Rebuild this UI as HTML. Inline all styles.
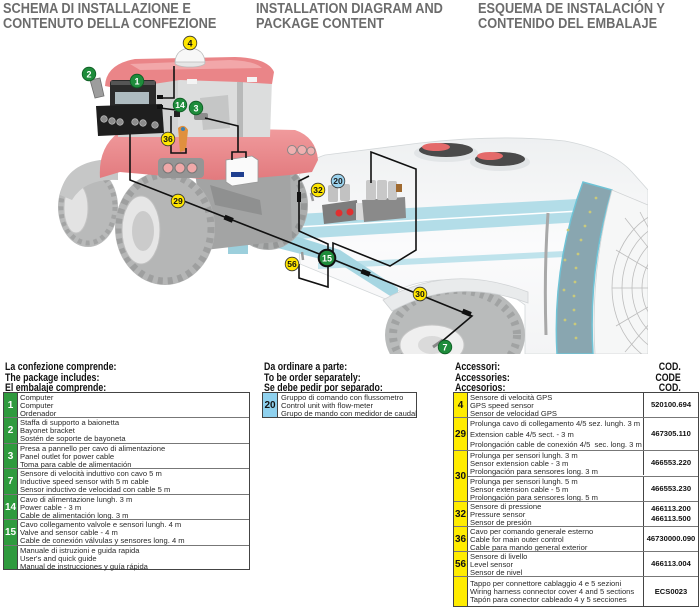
<!DOCTYPE html>
<html>
<head>
<meta charset="utf-8">
<style>
*{margin:0;padding:0;box-sizing:border-box}
body{width:700px;height:612px;position:relative;background:#fff;overflow:hidden;font-family:"Liberation Sans",Arial,sans-serif}
.ti{position:absolute;font-weight:bold;color:#6c6c6c;font-size:14.5px;line-height:15px;transform:scaleX(0.88);transform-origin:0 0;white-space:nowrap}
.hd{position:absolute;font-weight:bold;color:#111;font-size:11px;line-height:10.5px;transform:scaleX(0.8);transform-origin:0 0;white-space:nowrap}
.hdr{position:absolute;font-weight:bold;color:#111;font-size:11px;line-height:10.5px;transform:scaleX(0.8);transform-origin:100% 0;white-space:nowrap;text-align:right}
.tb{position:absolute;border:1px solid #444;background:#fff}
.r{position:absolute;left:0;right:0}
.r.s{border-top:1px solid #777}
.n{position:absolute;left:0;top:0;bottom:0;display:flex;align-items:center;justify-content:center;font-weight:bold;font-size:10px;border-right:1px solid #444}
.g{width:14px;background:#2f9a3e;color:#fff}
.y{width:14px;background:#ffec00;color:#111}
.b{width:15px;background:#8fd1ee;color:#111}
.x{position:absolute;font-size:7.6px;line-height:8.2px;color:#2b2b2b;white-space:nowrap}
.c{position:absolute;left:189px;right:0;top:0;bottom:0;display:flex;flex-direction:column;align-items:center;justify-content:center;font-weight:bold;font-size:7.6px;line-height:10px;color:#111;border-left:1px solid #444}
</style>
</head>
<body>

<svg width="700" height="360" style="position:absolute;left:0;top:0" xmlns="http://www.w3.org/2000/svg">
<defs>
<clipPath id="cl"><rect x="0" y="0" width="648" height="354"/></clipPath>
<linearGradient id="tk" x1="0" y1="0" x2="0" y2="1"><stop offset="0" stop-color="#eef0f1"/><stop offset="0.5" stop-color="#fbfbfc"/><stop offset="1" stop-color="#f3f4f5"/></linearGradient>
<linearGradient id="rd" x1="0" y1="0" x2="0" y2="1"><stop offset="0" stop-color="#f19c9e"/><stop offset="1" stop-color="#e27a7e"/></linearGradient>
</defs>
<g clip-path="url(#cl)">
<!-- sprayer tank -->
<path d="M296 195 Q294 165 325 155 L420 143 Q500 134 565 141 Q612 150 632 172 L648 190 L648 354 L525 354 L525 305 Q490 278 440 280 Q400 283 388 300 L300 264 Z" fill="url(#tk)" stroke="#d3d7d9" stroke-width="0.8"/>
<polygon points="297,214 578,199 582,222 297,239" fill="#b3dde8"/>
<line x1="297" y1="227" x2="580" y2="211" stroke="#fff" stroke-width="1.5"/>
<polygon points="318,263 565,251 565,257 318,269" fill="#bfe3ec"/>
<!-- lids -->
<ellipse cx="446" cy="153" rx="32" ry="9" fill="#e2e5e7"/>
<ellipse cx="446" cy="150" rx="27" ry="7" fill="#4a4a4a"/>
<ellipse cx="436" cy="147" rx="14" ry="4" fill="#e46a6a"/>
<ellipse cx="500" cy="162" rx="30" ry="9" fill="#e2e5e7"/>
<ellipse cx="500" cy="159" rx="25" ry="7" fill="#4a4a4a"/>
<ellipse cx="490" cy="156" rx="13" ry="4" fill="#e46a6a"/>
<!-- pipe -->
<path d="M548 213 Q544 270 546 335" stroke="#a8a8a8" stroke-width="3" fill="none"/>
<!-- chassis bar -->
<polygon points="226,222 250,222 340,250 398,288 398,301 340,264 250,241 226,241" fill="#a6d6e2"/>
<rect x="228" y="232" width="20" height="22" fill="#9ccfdc"/>
<!-- sprayer wheel -->
<ellipse cx="455" cy="335" rx="70" ry="52" fill="#b9bbbb"/>
<ellipse cx="455" cy="335" rx="62" ry="45" fill="none" stroke="#a1a3a3" stroke-width="8" stroke-dasharray="4 5"/>
<ellipse cx="432" cy="345" rx="32" ry="20" fill="#efefef" stroke="#c5c5c5"/>
<ellipse cx="432" cy="345" rx="14" ry="9" fill="#dadada"/>
<path d="M383 300 Q450 262 528 292 L528 303 Q455 276 392 311 Z" fill="#e9ebec" stroke="#d0d3d5" stroke-width="0.8"/>
<!-- fan ring -->
<path d="M583 182 Q552 265 557 354 L593 354 Q588 268 612 190 Z" fill="#89a6b0" stroke="#6fc3d6" stroke-width="1.5"/>
<g fill="#c9c97a">
<circle cx="596" cy="198" r="1.4"/><circle cx="590" cy="212" r="1.4"/><circle cx="585" cy="226" r="1.4"/><circle cx="581" cy="240" r="1.4"/><circle cx="578" cy="254" r="1.4"/><circle cx="576" cy="268" r="1.4"/><circle cx="575" cy="282" r="1.4"/><circle cx="574" cy="296" r="1.4"/><circle cx="574" cy="310" r="1.4"/><circle cx="575" cy="324" r="1.4"/><circle cx="576" cy="338" r="1.4"/>
<circle cx="568" cy="230" r="1.4"/><circle cx="565" cy="260" r="1.4"/><circle cx="564" cy="290" r="1.4"/><circle cx="565" cy="320" r="1.4"/>
</g>
<path d="M612 190 Q590 270 595 354 L648 354 L648 205 Z" fill="#f6f7f7" stroke="#cfd2d3" stroke-width="0.8"/>
<g stroke="#bdbdbd" stroke-width="0.8" fill="none">
<ellipse cx="680" cy="288" rx="68" ry="80"/>
<ellipse cx="680" cy="288" rx="58" ry="68"/>
<ellipse cx="680" cy="288" rx="48" ry="56"/>
<ellipse cx="680" cy="288" rx="38" ry="44"/>
<line x1="680" y1="288" x2="612" y2="288"/><line x1="680" y1="288" x2="616" y2="250"/><line x1="680" y1="288" x2="625" y2="218"/><line x1="680" y1="288" x2="616" y2="326"/><line x1="680" y1="288" x2="625" y2="352"/><line x1="680" y1="288" x2="640" y2="212"/>
</g>

<!-- tractor: back tire -->
<ellipse cx="268" cy="205" rx="40" ry="45" fill="#acaeae"/>
<ellipse cx="268" cy="205" rx="36" ry="41" fill="none" stroke="#959797" stroke-width="6" stroke-dasharray="5 5"/>
<polygon points="195,172 290,168 292,240 205,250" fill="#a3a4a4"/>
<path d="M210 185 L260 200 L262 215 L215 205 Z" fill="#8f9090"/>
<!-- small left tire -->
<ellipse cx="88" cy="207" rx="30" ry="40" fill="#b9baba"/>
<ellipse cx="88" cy="207" rx="27" ry="36" fill="none" stroke="#a3a4a4" stroke-width="5" stroke-dasharray="4 4"/>
<ellipse cx="76" cy="208" rx="12" ry="25" fill="#e3e3e3" stroke="#c4c4c4"/>
<path d="M60 195 Q65 165 100 160 L118 162 L118 180 Q85 178 72 200 Z" fill="#c6c7c7"/>
<!-- big tire -->
<ellipse cx="165" cy="228" rx="50" ry="57" fill="#b5b6b6"/>
<ellipse cx="165" cy="228" rx="46" ry="53" fill="none" stroke="#9e9f9f" stroke-width="7" stroke-dasharray="5 5"/>
<ellipse cx="141" cy="230" rx="19" ry="34" fill="#e6e6e6" stroke="#c0c0c0"/>
<ellipse cx="143" cy="231" rx="11" ry="20" fill="#cbcbcb"/>
<!-- red body -->
<path d="M100 178 Q98 148 118 133 L150 127 L295 130 Q316 137 318 160 L312 172 L290 175 L255 178 L215 180 L165 176 L120 172 Z" fill="url(#rd)"/>
<rect x="158" y="158" width="46" height="20" rx="4" fill="#959595"/>
<circle cx="168" cy="168" r="5" fill="#f0a8a8" stroke="#777"/>
<circle cx="180" cy="168" r="5" fill="#f0a8a8" stroke="#777"/>
<circle cx="192" cy="168" r="5" fill="#f0a8a8" stroke="#777"/>
<circle cx="292" cy="150" r="4.5" fill="#f0b0b0" stroke="#888"/>
<circle cx="302" cy="150" r="4.5" fill="#f0b0b0" stroke="#888"/>
<circle cx="311" cy="151" r="4" fill="#f0b0b0" stroke="#888"/>
<!-- cab -->
<polygon points="118,85 180,80 180,137 118,137" fill="#d2d3d3"/>
<polygon points="178,80 272,80 270,137 178,137" fill="#dcdddd"/>
<rect x="237" y="82" width="6" height="55" fill="#b8b9b9"/>
<path d="M200 98 L228 95 L230 128 L203 130 Z" fill="#c5c6c6"/>
<path d="M105 86 Q106 64 135 59 L235 57 Q268 58 274 72 L272 84 L240 82 L180 80 L120 89 Z" fill="#ea8588"/>
<path d="M130 64 L230 60 Q255 61 262 68 L140 70 Z" fill="#f2a7a9"/>
<rect x="187" y="79" width="10" height="5" fill="#f4f4f4"/>
<rect x="247" y="77" width="10" height="5" fill="#f4f4f4"/>
<!-- bracket 2 -->
<path d="M90 80 L100 78 L104 96 L95 98 Z" fill="#9d9d9d" stroke="#6f6f6f" stroke-width="0.8"/>
<!-- computer -->
<rect x="110" y="80" width="46" height="40" rx="3" fill="#2b2b2b"/>
<rect x="111" y="81" width="44" height="4" fill="#555"/>
<rect x="115" y="92" width="34" height="12" fill="#aebbc0"/>
<rect x="117" y="108" width="30" height="3" fill="#555"/>
<polygon points="96,106 162,104 164,133 98,136" fill="#1e1e1e"/>
<g fill="#8c8c8c" stroke="#cfcfcf" stroke-width="0.6">
<circle cx="104" cy="119" r="3.3"/><circle cx="112" cy="121" r="3.3"/><circle cx="120" cy="122" r="3.3"/><circle cx="135" cy="122" r="3.3"/><circle cx="143" cy="123" r="3.3"/><circle cx="155" cy="125" r="3.3"/>
</g>
<rect x="157" y="95" width="6" height="4" fill="#111"/>
<rect x="157" y="105" width="6" height="4" fill="#111"/>
<!-- GPS dome -->
<ellipse cx="190" cy="63" rx="15" ry="4" fill="#e6e6e6" stroke="#bbb" stroke-width="0.8"/>
<path d="M175 62 Q176 49 190 48 Q204 49 205 62 Z" fill="#f7f7f7" stroke="#bbb" stroke-width="0.8"/>
<!-- outlet 3 -->
<rect x="194" y="113" width="14" height="7" rx="2" fill="#8c8c8c"/>
<rect x="174" y="111" width="6" height="6" fill="#222"/>
<!-- joystick -->
<path d="M178 128 Q184 123 188 130 L186 150 L180 152 L179 140 Z" fill="#e0903e"/>
<circle cx="183" cy="129" r="2" fill="#3c7fb0"/>
<!-- battery -->
<polygon points="226,160 252,156 258,160 258,182 232,186 226,182" fill="#fafafa" stroke="#999" stroke-width="0.8"/>
<rect x="231" y="172" width="13" height="5" fill="#1f3f8f"/>
<!-- valves -->
<polygon points="322,205 357,200 358,220 324,224" fill="#7d7d7d"/>
<rect x="328" y="185" width="10" height="17" rx="2" fill="#c2c2c2"/>
<rect x="340" y="184" width="10" height="17" rx="2" fill="#c2c2c2"/>
<circle cx="339" cy="213" r="3.5" fill="#e03030"/>
<circle cx="350" cy="212" r="3.5" fill="#e03030"/>
<rect x="356" y="203" width="14" height="17" fill="#d9d9d9"/>
<polygon points="362,200 405,197 406,218 364,222" fill="#8a8a8a"/>
<rect x="366" y="180" width="10" height="20" rx="2" fill="#c8c8c8"/>
<rect x="377" y="180" width="10" height="20" rx="2" fill="#c8c8c8"/>
<rect x="388" y="181" width="9" height="19" rx="2" fill="#c8c8c8"/>
<rect x="396" y="184" width="6" height="8" fill="#a06a30"/>
<!-- sensors -->
<line x1="311" y1="193" x2="313" y2="201" stroke="#999" stroke-width="2.5"/>
<line x1="302" y1="252" x2="303" y2="260" stroke="#999" stroke-width="2.5"/>
<line x1="433" y1="347" x2="443" y2="340" stroke="#888" stroke-width="3"/>
<!-- cables -->
<g stroke="#111" stroke-width="1.6" fill="none" stroke-linejoin="miter">
<path d="M174 66 L174 98 L160 98"/>
<path d="M160 108 L176 110"/>
<path d="M171 116 L171 153 L186 153 L186 148"/>
<path d="M205 118 L238 126 L238 152"/>
<path d="M232 160 L232 152 L246 152 L246 158"/>
<path d="M130 134 L130 180 L327 257"/>
<path d="M327 257 L472 316 L440 343"/>
<path d="M309 176 L299 181 L299 231 L328 244 L328 287 L299 278 L299 264"/>
<path d="M333 255 L333 243 L390 266 L416 250 L416 169 L371 152 L371 183"/>
</g>
<g fill="#111">
<rect x="224" y="216" width="9" height="5" transform="rotate(22 228 219)"/>
<rect x="361" y="270" width="9" height="5" transform="rotate(22 365 273)"/>
<rect x="462" y="310" width="9" height="5" transform="rotate(22 466 313)"/>
<rect x="297" y="192" width="4" height="10"/>
</g>
</g>
<!-- badges -->
<g font-family="Liberation Sans, Arial, sans-serif" font-weight="bold" text-anchor="middle">
<g><circle cx="190" cy="43" r="6.8" fill="#ffe600" stroke="#333" stroke-width="0.8"/><text x="190" y="46.3" font-size="9" fill="#111">4</text></g>
<g><circle cx="89" cy="74" r="6.8" fill="#1e8c3b" stroke="#0d5a22" stroke-width="0.8"/><text x="89" y="77.3" font-size="9" fill="#fff">2</text></g>
<g><circle cx="137" cy="81" r="6.8" fill="#1e8c3b" stroke="#0d5a22" stroke-width="0.8"/><text x="137" y="84.3" font-size="9" fill="#fff">1</text></g>
<g><circle cx="180" cy="105" r="6.8" fill="#1e8c3b" stroke="#0d5a22" stroke-width="0.8"/><text x="180" y="108.2" font-size="8.5" fill="#fff">14</text></g>
<g><circle cx="196" cy="108" r="6.8" fill="#1e8c3b" stroke="#0d5a22" stroke-width="0.8"/><text x="196" y="111.3" font-size="9" fill="#fff">3</text></g>
<g><circle cx="168" cy="139" r="6.8" fill="#ffe600" stroke="#333" stroke-width="0.8"/><text x="168" y="142.2" font-size="8.5" fill="#111">36</text></g>
<g><circle cx="178" cy="201" r="6.8" fill="#ffe600" stroke="#333" stroke-width="0.8"/><text x="178" y="204.2" font-size="8.5" fill="#111">29</text></g>
<g><circle cx="318" cy="190" r="6.8" fill="#ffe600" stroke="#333" stroke-width="0.8"/><text x="318" y="193.2" font-size="8.5" fill="#111">32</text></g>
<g><circle cx="338" cy="181" r="6.8" fill="#9bd3ee" stroke="#333" stroke-width="0.8"/><text x="338" y="184.2" font-size="8.5" fill="#1a1a1a">20</text></g>
<g><circle cx="327" cy="258" r="8.3" fill="#1e8c3b" stroke="#111" stroke-width="2"/><text x="327" y="261.3" font-size="9" fill="#fff">15</text></g>
<g><circle cx="292" cy="264" r="6.8" fill="#ffe600" stroke="#333" stroke-width="0.8"/><text x="292" y="267.2" font-size="8.5" fill="#111">56</text></g>
<g><circle cx="420" cy="294" r="6.8" fill="#ffe600" stroke="#333" stroke-width="0.8"/><text x="420" y="297.2" font-size="8.5" fill="#111">30</text></g>
<g><circle cx="445" cy="347" r="6.8" fill="#1e8c3b" stroke="#0d5a22" stroke-width="0.8"/><text x="445" y="350.3" font-size="9" fill="#fff">7</text></g>
</g>
</svg>

<!-- titles -->
<div class="ti" style="left:3px;top:1.5px">SCHEMA DI INSTALLAZIONE E<br>CONTENUTO DELLA CONFEZIONE</div>
<div class="ti" style="left:256px;top:1.5px">INSTALLATION DIAGRAM AND<br>PACKAGE CONTENT</div>
<div class="ti" style="left:478px;top:1.5px">ESQUEMA DE INSTALACIÓN Y<br>CONTENIDO DEL EMBALAJE</div>

<!-- left table -->
<div class="hd" style="left:5px;top:362px">La confezione comprende:<br>The package includes:<br>El embalaje comprende:</div>
<div class="tb" style="left:3px;top:392px;width:247px;height:178px">
 <div class="r" style="top:0;height:24px"><div class="n g">1</div><div class="x" style="left:16px;top:0.5px">Computer<br>Computer<br>Ordenador</div></div>
 <div class="r s" style="top:24px;height:26px"><div class="n g">2</div><div class="x" style="left:16px;top:0.5px">Staffa di supporto a baionetta<br>Bayonet bracket<br>Sostén de soporte de bayoneta</div></div>
 <div class="r s" style="top:50px;height:25px"><div class="n g">3</div><div class="x" style="left:16px;top:0.5px">Presa a pannello per cavo di alimentazione<br>Panel outlet for power cable<br>Toma para cable de alimentación</div></div>
 <div class="r s" style="top:75px;height:26px"><div class="n g">7</div><div class="x" style="left:16px;top:0.5px">Sensore di velocità induttivo con cavo 5 m<br>Inductive speed sensor with 5 m cable<br>Sensor inductivo de velocidad con cable 5 m</div></div>
 <div class="r s" style="top:101px;height:25px"><div class="n g">14</div><div class="x" style="left:16px;top:0.5px">Cavo di alimentazione lungh. 3 m<br>Power cable - 3 m<br>Cable de alimentación long. 3 m</div></div>
 <div class="r s" style="top:126px;height:26px"><div class="n g">15</div><div class="x" style="left:16px;top:0.5px">Cavo collegamento valvole e sensori lungh. 4 m<br>Valve and sensor cable - 4 m<br>Cable de conexión válvulas y sensores long. 4 m</div></div>
 <div class="r s" style="top:152px;height:24px"><div class="n g"></div><div class="x" style="left:16px;top:0.5px">Manuale di istruzioni e guida rapida<br>User's and quick guide<br>Manual de instrucciones y guía rápida</div></div>
</div>

<!-- middle table -->
<div class="hd" style="left:264px;top:362px">Da ordinare a parte:<br>To be order separately:<br>Se debe pedir por separado:</div>
<div class="tb" style="left:262px;top:392px;width:155px;height:26px">
 <div class="r" style="top:0;height:24px"><div class="n b">20</div><div class="x" style="left:18px;top:0.5px">Gruppo di comando con flussometro<br>Control unit with flow-meter<br>Grupo de mando con medidor de caudal</div></div>
</div>

<!-- right table -->
<div class="hd" style="left:455px;top:362px">Accessori:<br>Accessories:<br>Accesorios:</div>
<div class="hdr" style="right:19px;top:362px">COD.<br>CODE<br>COD.</div>
<div class="tb" style="left:453px;top:392px;width:246px;height:215px">
 <div class="r" style="top:0;height:24px"><div class="n y">4</div><div class="x" style="left:16px;top:0.5px">Sensore di velocità GPS<br>GPS speed sensor<br>Sensor de velocidad GPS</div><div class="c">520100.694</div></div>
 <div class="r s" style="top:24px;height:33px"><div class="n y">29</div><div class="x" style="left:16px;top:1px;line-height:10.5px">Prolunga cavo di collegamento 4/5 sez. lungh. 3 m<br>Extension cable 4/5 sect. - 3 m<br>Prolongación cable de conexión 4/5&nbsp; sec. long. 3 m</div><div class="c">467305.110</div></div>
 <div class="r s" style="top:57px;height:51px"><div class="n y">30</div>
   <div class="x" style="left:16px;top:0.5px">Prolunga per sensori lungh. 3 m<br>Sensor extension cable - 3 m<br>Prolongación para sensores long. 3 m</div>
   <div class="c" style="bottom:26px">466553.220</div>
   <div style="position:absolute;left:14px;right:0;top:25px;border-top:1px solid #777"></div>
   <div class="x" style="left:16px;top:26.5px">Prolunga per sensori lungh. 5 m<br>Sensor extension cable - 5 m<br>Prolongación para sensores long. 5 m</div>
   <div class="c" style="top:26px">466553.230</div>
 </div>
 <div class="r s" style="top:108px;height:25px"><div class="n y">32</div><div class="x" style="left:16px;top:0.5px">Sensore di pressione<br>Pressure sensor<br>Sensor de presión</div><div class="c">466113.200<br>466113.500</div></div>
 <div class="r s" style="top:133px;height:25px"><div class="n y">36</div><div class="x" style="left:16px;top:0.5px">Cavo per comando generale esterno<br>Cable for main outer control<br>Cable para mando general exterior</div><div class="c">46730000.090</div></div>
 <div class="r s" style="top:158px;height:25px"><div class="n y">56</div><div class="x" style="left:16px;top:0.5px">Sensore di livello<br>Level sensor<br>Sensor de nivel</div><div class="c">466113.004</div></div>
 <div class="r s" style="top:183px;height:30px"><div class="n y"></div><div class="x" style="left:16px;top:3px">Tappo per connettore cablaggio 4 e 5 sezioni<br>Wiring harness connector cover 4 and 5 sections<br>Tapón para conector cableado 4 y 5 secciones</div><div class="c">ECS0023</div></div>
</div>

</body>
</html>
